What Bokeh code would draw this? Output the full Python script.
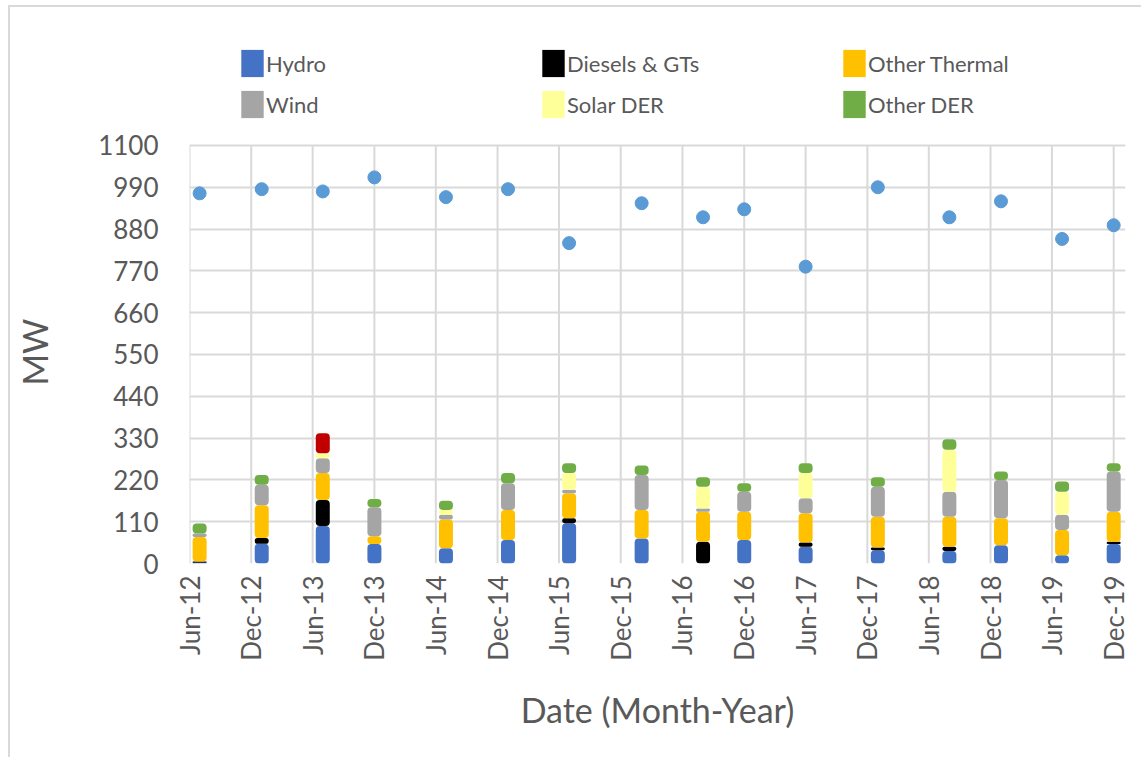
import math
import pandas as pd
from bokeh.plotting import figure
from bokeh.models import (ColumnDataSource, Range1d, FixedTicker, DatetimeTickFormatter,
                          Legend, LegendItem)
from bokeh.embed import file_html
from bokeh.resources import INLINE

# ---------------- data ----------------
dates = ["2012-07-01", "2013-01-01", "2013-07-01", "2013-12-01", "2014-07-01", "2015-01-01",
         "2015-07-01", "2016-02-01", "2016-08-01", "2016-12-01", "2017-06-01", "2018-01-01",
         "2018-08-01", "2019-01-01", "2019-07-01", "2019-12-01"]
tick_dates = ["2012-06-01", "2012-12-01", "2013-06-01", "2013-12-01", "2014-06-01", "2014-12-01",
              "2015-06-01", "2015-12-01", "2016-06-01", "2016-12-01", "2017-06-01", "2017-12-01",
              "2018-06-01", "2018-12-01", "2019-06-01", "2019-12-01"]
y_ticks = [0, 110, 220, 330, 440, 550, 660, 770, 880, 990, 1100]

hydro         = [2, 52, 99, 51, 40, 62, 106, 66, 0, 62, 44, 35, 33, 48, 22, 51]
diesels_gts   = [3, 15, 68, 0, 0, 0, 13, 0, 57, 0, 11, 7, 11, 0, 0, 6]
other_thermal = [65, 86, 71, 21, 76, 79, 66, 75, 79, 74, 77, 81, 79, 71, 66, 79]
wind          = [9, 54, 39, 76, 12, 70, 9, 92, 9, 53, 40, 79, 66, 101, 40, 106]
solar_der     = [0, 0, 13, 0, 13, 0, 44, 0, 57, 0, 66, 0, 110, 0, 61, 0]
other_der     = [26, 26, 0, 22, 24, 27, 26, 25, 25, 22, 26, 25, 28, 22, 27, 22]
other_red     = [0, 0, 53, 0, 0, 0, 0, 0, 0, 0, 0, 0, 0, 0, 0, 0]
peak_demand   = [974, 985, 979, 1016, 964, 985, 843, 948, 911, 932, 781, 990, 911, 953, 854, 890]

series_names  = ["Hydro", "Diesels & GTs", "Other Thermal", "Wind", "Solar DER", "Other DER"]
series_cols   = ["hydro", "diesels_gts", "other_thermal", "wind", "solar_der", "other_der", "other_red"]
colors        = ["#4472C4", "#000000", "#FFC000", "#A5A5A5", "#FFFF99", "#70AD47", "#C00000"]

FONT = "Lato"
TXT = "#595959"
GRID = "#D9D9D9"

src = ColumnDataSource(dict(
    date=pd.to_datetime(dates),
    hydro=hydro, diesels_gts=diesels_gts, other_thermal=other_thermal, wind=wind,
    solar_der=solar_der, other_der=other_der, other_red=other_red, peak=peak_demand,
))

x_start = pd.Timestamp("2012-06-01")
x_end = pd.Timestamp("2020-01-05")
y_top = 1363  # extra room above the 1100 gridline holds the legend

p = figure(width=1133, height=752, x_axis_type="datetime",
           x_range=Range1d(start=x_start, end=x_end), y_range=Range1d(start=0, end=y_top),
           output_backend="svg", toolbar_location=None,
           min_border_left=179, min_border_right=18, min_border_top=38, min_border_bottom=196)
p.styles = {"border-left": "2px solid #D9D9D9", "border-top": "2px solid #D9D9D9",
            "margin-left": "8px", "margin-top": "5px"}
p.outline_line_color = None
p.background_fill_color = "white"
p.border_fill_color = "white"

# vertical gridlines, only across the value range 0..1100
tick_dt = pd.to_datetime(tick_dates)
p.segment(x0=tick_dt, y0=[y_ticks[0]] * len(tick_dt), x1=tick_dt, y1=[y_ticks[-1]] * len(tick_dt),
          line_color=GRID, line_width=2)

bar_w = 41.5 * 24 * 3600 * 1000  # ms
renderers = p.vbar_stack(series_cols, x="date", width=bar_w, source=src,
                         fill_color=colors, line_color=None, border_radius=4)

p.scatter("date", "peak", source=src, size=13, color="#5B9BD5", line_color="#5B9BD5")

# axes
tick_ms = [pd.Timestamp(d).value // 10**6 for d in tick_dates]
p.xaxis.ticker = FixedTicker(ticks=tick_ms)
p.xaxis.formatter = DatetimeTickFormatter(months="%b-%y", days="%b-%y", years="%b-%y",
                                          hours="%b-%y", minutes="%b-%y")
p.xaxis.major_label_orientation = math.pi / 2
p.yaxis.ticker = FixedTicker(ticks=y_ticks)
p.yaxis.bounds = (y_ticks[0], y_ticks[-1])

for ax in (p.xaxis, p.yaxis):
    ax.axis_line_color = None
    ax.major_tick_line_color = None
    ax.minor_tick_line_color = None
    ax.major_tick_out = 0
    ax.major_label_text_font = FONT
    ax.major_label_text_color = TXT
    ax.axis_label_text_font = FONT
    ax.axis_label_text_color = TXT
    ax.axis_label_text_font_style = "normal"

p.yaxis.major_label_text_font_size = "26px"
p.xaxis.major_label_text_font_size = "26px"
p.yaxis.major_label_standoff = 31
p.xaxis.major_label_standoff = 12
# trailing no-break spaces push the centred title down to the middle of 0..1100
p.yaxis.axis_label = "MW" + "\u00a0" * 11
p.yaxis.axis_label_text_font_size = "34px"
p.yaxis.axis_label_standoff = 40
p.xaxis.axis_label = "Date (Month-Year)"
p.xaxis.axis_label_text_font_size = "34px"
p.xaxis.axis_label_standoff = 25

p.xgrid.visible = False
p.ygrid.grid_line_color = GRID
p.ygrid.grid_line_width = 2

# legend (red series has no legend entry in the reference)
items = [LegendItem(label=n, renderers=[r]) for n, r in zip(series_names, renderers[:6])]
legend = Legend(items=items, location=(49, 442), orientation="horizontal", ncols=3,
                glyph_width=28, glyph_height=34, label_standoff=0, label_width=266,
                spacing=7, padding=0, margin=0, border_line_color=None,
                background_fill_alpha=0, label_text_font=FONT, label_text_font_size="22px",
                label_text_color=TXT)
p.add_layout(legend)

open("out.html", "w").write(file_html(p, INLINE))
